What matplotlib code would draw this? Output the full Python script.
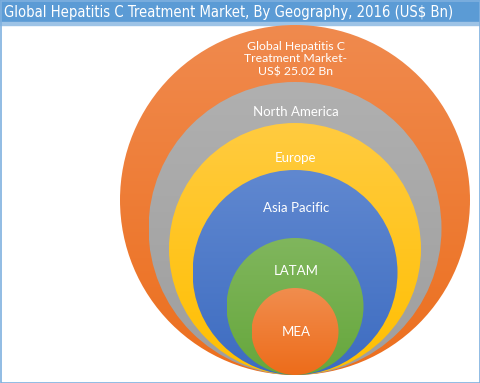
import matplotlib
matplotlib.use("Agg")
import matplotlib.pyplot as plt
import numpy as np
from matplotlib.colors import LinearSegmentedColormap
from matplotlib.patches import Circle, Rectangle

# ----------------- Data -----------------
title = "Global Hepatitis C Treatment Market, By Geography, 2016 (US$ Bn)"
regions = ["Global Hepatitis C\nTreatment Market-\nUS$ 25.02 Bn",
           "North America", "Europe", "Asia Pacific", "LATAM", "MEA"]

# ----------------- Layout / style -----------------
W, H = 480, 383
cx, bottom = 295, 375
radii = [175, 146.5, 126, 102.5, 68.5, 43.5]
label_y = [59, 112, 158, 208, 271, 332]
label_size = [8.8, 9.5, 9.5, 9.5, 9.5, 9.5]
grad = [("#F08A4E", "#EC6F1E"),
        ("#B0B0B0", "#9E9E9E"),
        ("#FFCB40", "#FFBF00"),
        ("#6088D0", "#3D6CC1"),
        ("#80B65D", "#66A73C"),
        ("#F18D4E", "#ED6C1A")]

fig = plt.figure(figsize=(W / 100, H / 100), dpi=100)
ax = fig.add_axes([0, 0, 1, 1])
ax.set_xlim(0, W)
ax.set_ylim(H, 0)
ax.axis("off")

# title bar
ax.add_patch(Rectangle((0, 0), W, 22, color="#5B9BD5", zorder=1))
ax.add_patch(Rectangle((0, 22), W, 2.5, color="#9DC3E6", zorder=1))
t = ax.text(4, 12, title, color="white", fontsize=11, family="DejaVu Sans",
            fontstretch="condensed", ha="left", va="center", zorder=5)
# shrink title so it spans ~451 px like the reference
renderer = fig.canvas.get_renderer()
w = t.get_window_extent(renderer).width
t.set_fontsize(11 * 451 / w)

# outer frame
ax.add_patch(Rectangle((0.5, 0.5), W - 1, H - 1, fill=False,
                       edgecolor="#7EB0DF", linewidth=1.2, zorder=6))

# nested circles, bottom aligned, vertical gradient fill
for r, (c_top, c_bot) in zip(radii, grad):
    cy = bottom - r
    cmap = LinearSegmentedColormap.from_list("g", [c_top, c_bot])
    g = np.linspace(0, 1, 256).reshape(-1, 1)
    im = ax.imshow(g, cmap=cmap, extent=(cx - r, cx + r, cy + r, cy - r),
                   aspect="auto", zorder=2, interpolation="bilinear")
    circ = Circle((cx, cy), r, facecolor="none", edgecolor="none",
                  transform=ax.transData)
    ax.add_patch(circ)
    im.set_clip_path(circ)

for name, y, fs in zip(regions, label_y, label_size):
    ax.text(cx + 1, y, name, color="white", fontsize=fs, family="Lato",
            ha="center", va="center", linespacing=1.2, zorder=5)

ax.set_xlim(0, W)
ax.set_ylim(H, 0)
fig.savefig("out.png", dpi=100)
